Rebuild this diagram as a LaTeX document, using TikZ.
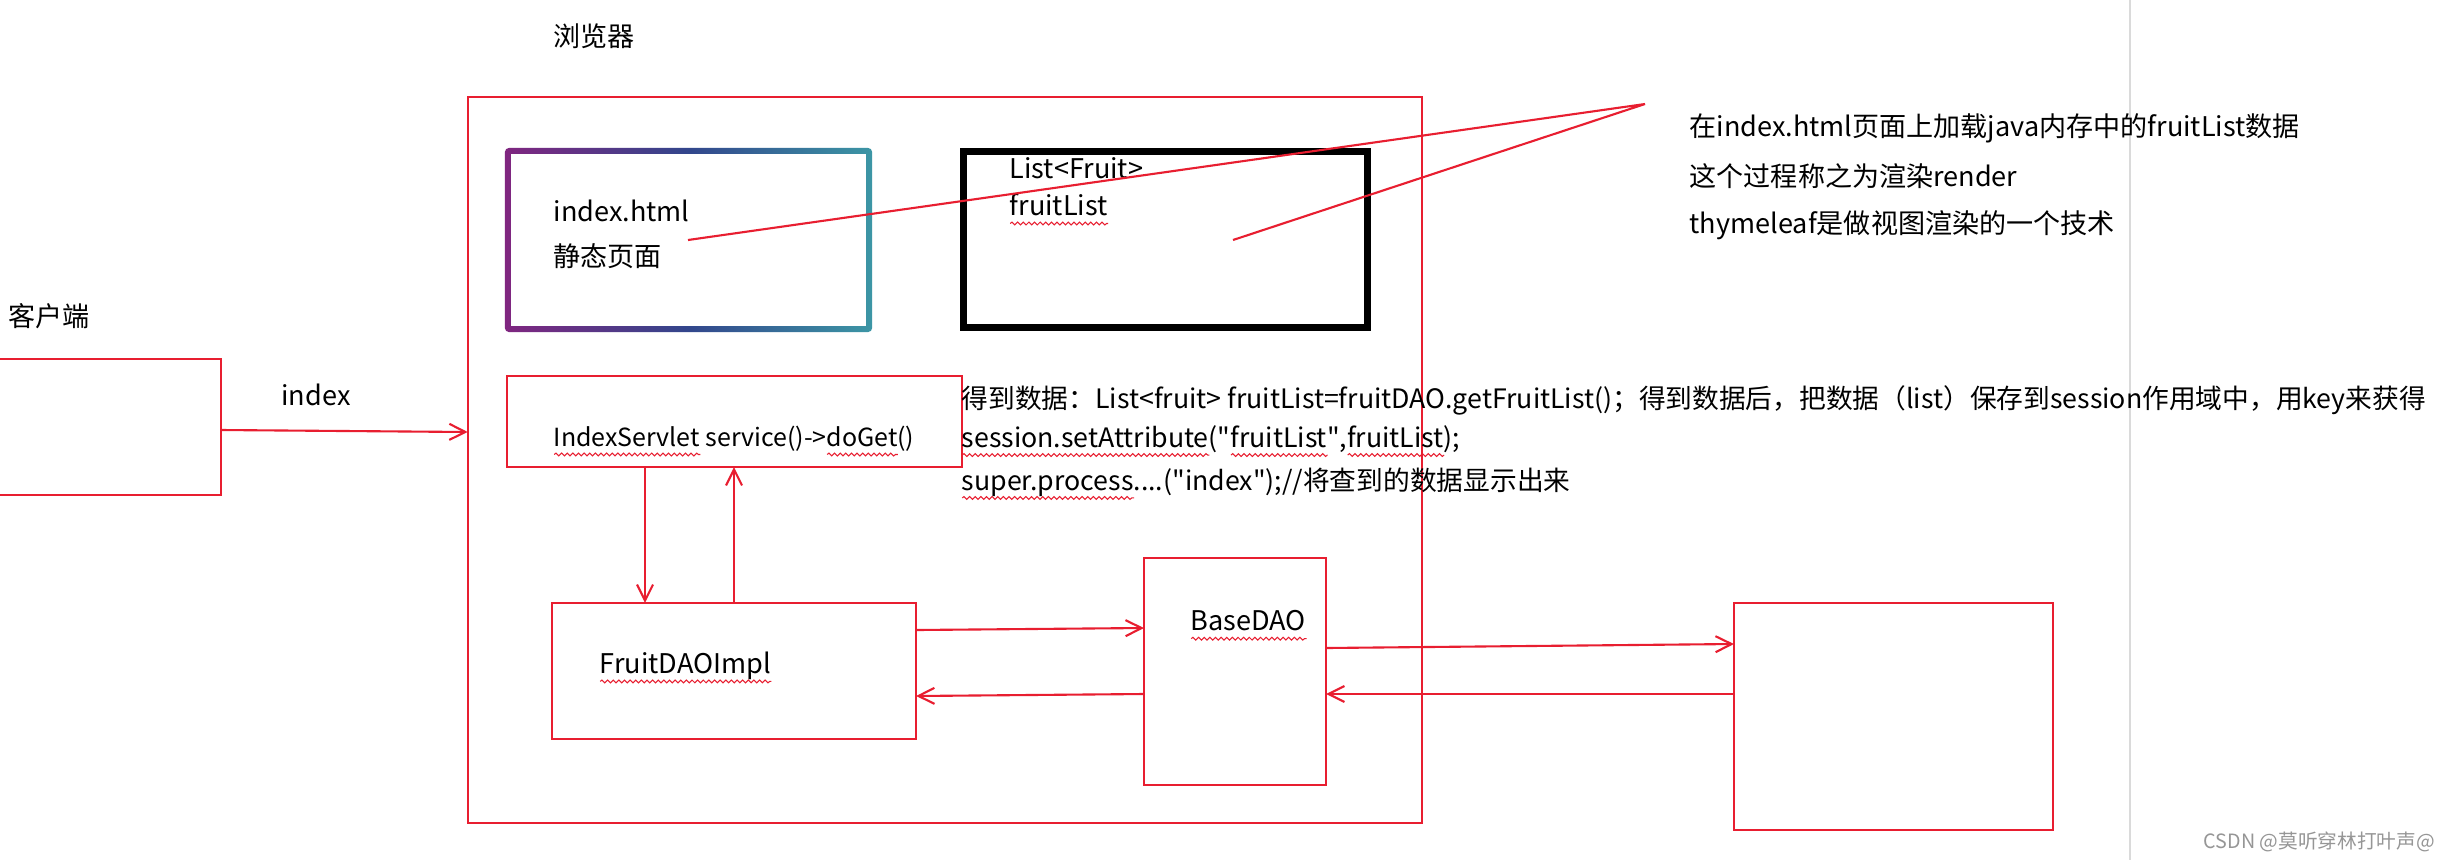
\documentclass[tikz,border=0pt]{standalone}
\usepackage{fontspec}
\setmainfont{Noto Sans CJK SC}
\usetikzlibrary{arrows.meta,decorations.pathmorphing}
\definecolor{linered}{RGB}{232,30,48}
\definecolor{gradpurple}{RGB}{128,38,128}
\definecolor{gradblue}{RGB}{50,70,140}
\definecolor{gradteal}{RGB}{60,150,165}
\definecolor{pagegray}{RGB}{218,218,218}
\definecolor{markgray}{RGB}{150,150,150}
\tikzset{squigline/.style={linered,line width=0.3pt,decorate,
    decoration={snake,amplitude=0.4pt,segment length=1.6pt}}}
\newsavebox\squigbox
\newcommand\squig[1]{\sbox\squigbox{#1}\rlap{\smash{\tikz[baseline=0pt]\draw[squigline] (0pt,-2.2pt) -- (\the\wd\squigbox,-2.2pt);}}\usebox\squigbox}
\newcommand\qq{\textquotedbl}

\begin{document}
\begin{tikzpicture}[x=0.01cm,y=-0.01cm,
    font=\fontsize{7.7pt}{9pt}\selectfont,
    box/.style={draw=linered,line width=0.6pt,inner sep=0pt,outer sep=0pt},
    link/.style={linered,line width=0.6pt,-{Straight Barb[length=1.6mm,width=1.6mm]}},
    txt/.style={anchor=west,inner sep=0pt}]
    \useasboundingbox (0,0) rectangle (2445,860);
    \fill[white] (0,0) rectangle (2445,860);
    \clip (0,0) rectangle (2445,860);
    \draw[pagegray,line width=0.8pt] (2130,0) -- (2130,860);

    \node[box,minimum width=9.54cm,minimum height=7.26cm] (browser) at (945,460) {};
    \node[txt] (browsertitle) at (553,36) {浏览器};

    \node[inner sep=0pt,minimum width=3.67cm,minimum height=1.84cm,rounded corners=0.04cm,
        left color=gradpurple,right color=gradteal,middle color=gradblue] (page) at (688.5,240) {};
    \fill[white] ([shift={(7,7)}]page.north west) rectangle ([shift={(-7,-7)}]page.south east);
    \node[txt] (pagename) at (553,211) {index.html};
    \node[txt] (pagekind) at (553,256) {静态页面};

    \node[draw=black,line width=0.07cm,inner sep=0pt,minimum width=4.04cm,minimum height=1.76cm] (model) at (1165.5,239.5) {};
    \node[txt] (listtype) at (1009,168) {List<Fruit>};
    \node[txt] (listname) at (1009,205) {\squig{fruitList}};

    \coordinate (pagept) at (688,240);
    \coordinate (listpt) at (1233,240);
    \coordinate (notept) at (1645,104);
    \draw[linered,line width=0.6pt] (pagept) -- (notept) -- (listpt);
    \node[txt] (note1) at (1689,128) {在index.html页面上加载java内存中的fruitList数据};
    \node[txt] (note2) at (1689,176) {这个过程称之为渲染render};
    \node[txt] (note3) at (1689,225) {thymeleaf是做视图渲染的一个技术};

    \node[txt] (clienttitle) at (8,316) {客户端};
    \node[box,minimum width=2.31cm,minimum height=1.36cm] (client) at (105.5,427) {};
    \node (reqlabel) at (316,395) {index};
    \draw[link] (client.east |- 0,430) -- (browser.west |- 0,432);

    \node[box,minimum width=4.55cm,minimum height=0.91cm] (servlet) at (734.5,421.5) {};
    \node[txt,font=\fontsize{7.1pt}{9pt}\selectfont] (servletname) at (553,439) {\squig{IndexServlet} service()->\squig{doGet}()};
    \begin{scope}[font=\fontsize{7.6pt}{9pt}\selectfont]
    \node[txt] (step1) at (961,400) {得到数据：List<fruit> fruitList=fruitDAO.getFruitList()；得到数据后，把数据（list）保存到session作用域中，用key来获得};
    \node[txt] (step2) at (961,439) {\squig{session.setAttribute}(\qq\squig{fruitList}\qq,\squig{fruitList});};
    \node[txt] (step3) at (961,482) {\squig{super.process}....(\qq index\qq);//将查到的数据显示出来};
    \end{scope}

    \node[box,minimum width=3.64cm,minimum height=1.36cm] (fruit) at (734,671) {};
    \node[txt] (fruitname) at (599,666) {\squig{FruitDAOImpl}};
    \node[box,minimum width=1.82cm,minimum height=2.27cm] (base) at (1235,671.5) {};
    \node[txt] (basename) at (1190,621) {\squig{BaseDAO}};
    \node[box,minimum width=3.19cm,minimum height=2.27cm] (db) at (1893.5,716.5) {};

    \draw[link] (servlet.south -| 645,0) -- (fruit.north -| 645,0);
    \draw[link] (fruit.north -| 734,0) -- (servlet.south -| 734,0);
    \draw[link] (fruit.east |- 0,630) -- (base.west |- 0,628);
    \draw[link] (base.west |- 0,694) -- (fruit.east |- 0,696);
    \draw[link] (base.east |- 0,648) -- (db.west |- 0,644);
    \draw[link] (db.west |- 0,694) -- (base.east |- 0,694);

    \node[txt,text=markgray,font=\fontsize{5.6pt}{7pt}\selectfont] (mark) at (2203,842) {CSDN @莫听穿林打叶声@};
\end{tikzpicture}
\end{document}
